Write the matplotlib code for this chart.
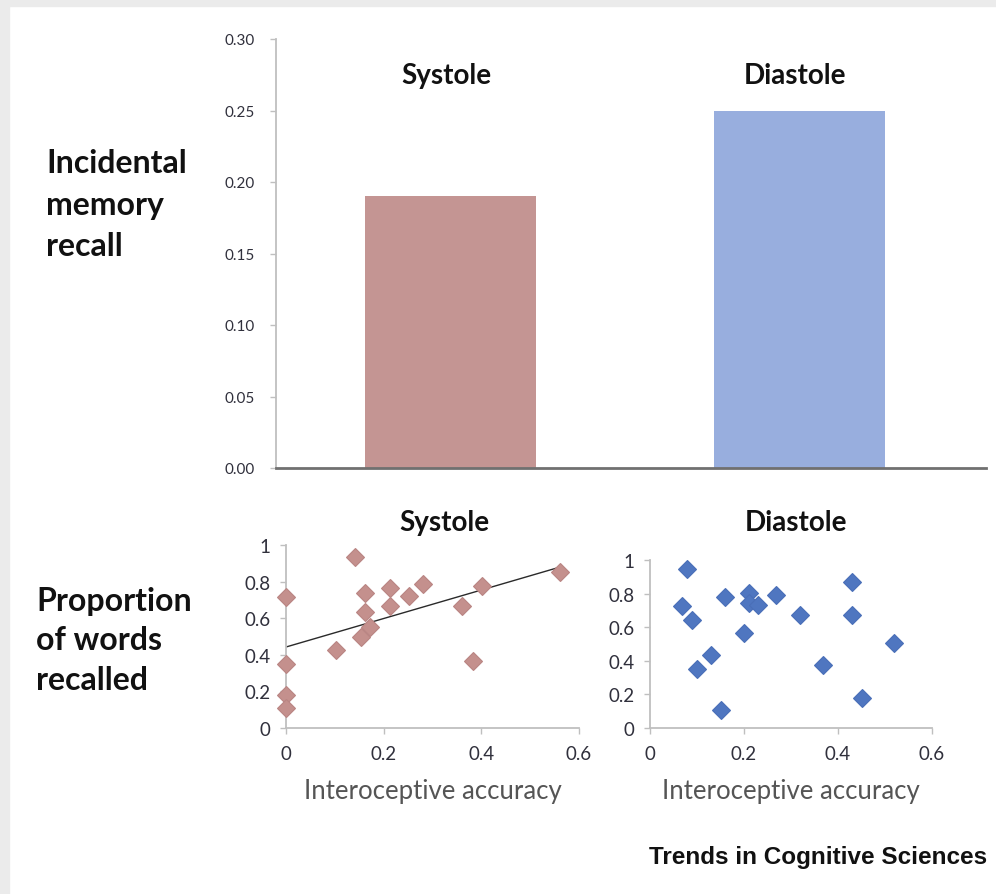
import numpy as np
import matplotlib
matplotlib.use("Agg")
import matplotlib.pyplot as plt
from matplotlib.patches import Rectangle
from matplotlib.ticker import FuncFormatter

# --- data -------------------------------------------------------------
phases = ["Systole", "Diastole"]
recall_means = [0.19, 0.25]
bar_colors = ["#c49593", "#98aede"]
bar_ticks = [0.00, 0.05, 0.10, 0.15, 0.20, 0.25, 0.30]

systole_acc = [0.0, 0.0, 0.0, 0.0, 0.102, 0.141, 0.153, 0.161, 0.161,
               0.172, 0.213, 0.213, 0.252, 0.281, 0.361, 0.382, 0.402, 0.562]
systole_words = [0.717, 0.347, 0.181, 0.109, 0.426, 0.933, 0.497, 0.735, 0.635,
                 0.553, 0.764, 0.664, 0.724, 0.786, 0.664, 0.368, 0.777, 0.855]

diastole_acc = [0.069, 0.079, 0.089, 0.099, 0.130, 0.150, 0.159, 0.200, 0.210,
                0.210, 0.230, 0.269, 0.319, 0.368, 0.429, 0.429, 0.450, 0.519]
diastole_words = [0.726, 0.948, 0.645, 0.349, 0.433, 0.107, 0.778, 0.563, 0.802,
                  0.742, 0.734, 0.790, 0.675, 0.373, 0.869, 0.675, 0.179, 0.504]

acc_ticks = [0, 0.2, 0.4, 0.6]
word_ticks = [0, 0.2, 0.4, 0.6, 0.8, 1.0]

# --- figure -----------------------------------------------------------
W, H = 996, 895
fig = plt.figure(figsize=(W / 100, H / 100), dpi=100, facecolor="white")

def fx(px):
    return px / W

def fy(py):
    return 1 - py / H

# light grey frame on the left and top edges
fig.patches.append(Rectangle((0, 0), fx(9), 1, transform=fig.transFigure,
                             color="#ebebeb", zorder=0))
fig.patches.append(Rectangle((0, fy(7)), 1, fy(0) - fy(7), transform=fig.transFigure,
                             color="#ebebeb", zorder=0))

FONT = "Lato"
TICK_COLOR = "#30303c"
SPINE_LIGHT = "#bfbfbf"
TITLE_KW = dict(ha="center", va="center", fontsize=20, fontweight="bold",
                family=FONT, color="#111111")
SIDE_KW = dict(ha="left", va="center", fontsize=23, fontweight="bold",
               family=FONT, color="#111111")

# --- top: bar chart ---------------------------------------------------
ax = fig.add_axes([fx(276), fy(469), fx(986) - fx(276), fy(40) - fy(469)])
xpos = np.arange(len(phases))
ax.bar(xpos, recall_means, width=0.49, color=bar_colors, zorder=2)
ax.set_xlim(-0.5, 1.535)
ax.set_ylim(0, 0.30)
ax.set_yticks(bar_ticks)
ax.yaxis.set_major_formatter(FuncFormatter(lambda v, p: f"{v:.2f}"))
ax.set_xticks([])
for s in ("top", "right"):
    ax.spines[s].set_visible(False)
ax.spines["left"].set_color(SPINE_LIGHT)
ax.spines["left"].set_linewidth(1.3)
ax.spines["bottom"].set_color("#707070")
ax.spines["bottom"].set_linewidth(2.0)
ax.tick_params(axis="y", direction="out", length=4, width=1, color=SPINE_LIGHT,
               labelsize=11, labelcolor=TICK_COLOR, pad=11)
for lbl in ax.get_yticklabels():
    lbl.set_fontfamily(FONT)

fig.text(fx(446), fy(76), "Systole", **TITLE_KW)
fig.text(fx(795), fy(76), "Diastole", **TITLE_KW)
fig.text(fx(46), fy(205), "Incidental\nmemory\nrecall", linespacing=1.52, **SIDE_KW)

# --- bottom: scatter plots -------------------------------------------
def style_scatter(a):
    a.set_xlim(0, 0.6)
    a.set_ylim(0, 1)
    a.set_xticks(acc_ticks)
    a.set_yticks(word_ticks)
    fmt = FuncFormatter(lambda v, p: "0" if v == 0 else ("1" if v == 1 else f"{v:.1f}"))
    a.xaxis.set_major_formatter(fmt)
    a.yaxis.set_major_formatter(fmt)
    for s in ("top", "right"):
        a.spines[s].set_visible(False)
    for s in ("left", "bottom"):
        a.spines[s].set_color(SPINE_LIGHT)
        a.spines[s].set_linewidth(1.3)
    a.tick_params(direction="out", length=4, width=1, color=SPINE_LIGHT,
                  labelsize=13.5, labelcolor=TICK_COLOR)
    a.tick_params(axis="x", pad=8)
    a.tick_params(axis="y", pad=7)
    for lbl in a.get_xticklabels() + a.get_yticklabels():
        lbl.set_fontfamily(FONT)
    a.set_xlabel("Interoceptive accuracy", fontsize=18.5, family=FONT,
                  color="#555555", labelpad=12)
    a.patch.set_alpha(0)

ax1 = fig.add_axes([fx(286), fy(729), fx(579) - fx(286), fy(546) - fy(729)])
style_scatter(ax1)
ax1.plot(systole_acc, systole_words, linestyle="none", marker="D", markersize=9,
         markerfacecolor="#c4908d", markeredgecolor="#b98583", markeredgewidth=0.8,
         clip_on=False, zorder=3)
slope, intercept = np.polyfit(systole_acc, systole_words, 1)
xl = np.array([0.0, max(systole_acc)])
ax1.plot(xl, intercept + slope * xl, color="#2a2a2a", linewidth=1.0, zorder=2)

ax2 = fig.add_axes([fx(650), fy(729), fx(932) - fx(650), fy(561) - fy(729)])
style_scatter(ax2)
ax2.plot(diastole_acc, diastole_words, linestyle="none", marker="D", markersize=9,
         markerfacecolor="#4f76c0", markeredgecolor="#4a6fb8", markeredgewidth=0.8,
         clip_on=False, zorder=3)

fig.text(fx(444), fy(523), "Systole", **TITLE_KW)
fig.text(fx(796), fy(523), "Diastole", **TITLE_KW)
fig.text(fx(36), fy(641), "Proportion\nof words\nrecalled", linespacing=1.45, **SIDE_KW)

fig.text(fx(987), fy(858), "Trends in Cognitive Sciences", ha="right", va="center",
         fontsize=17.5, fontweight="bold", family="Liberation Sans", color="#111111")

fig.savefig("out.png", dpi=100, facecolor="white")
